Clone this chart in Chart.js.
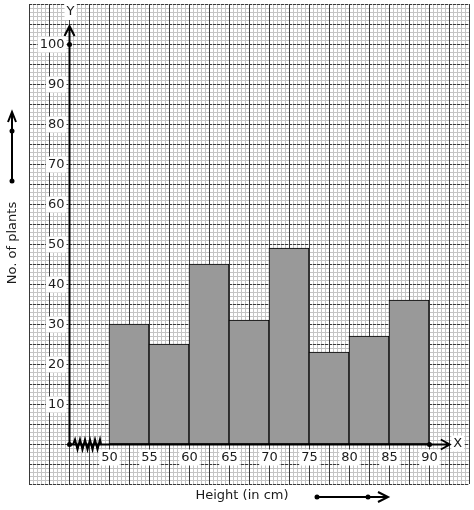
<!DOCTYPE html>
<html>
<head>
<meta charset="utf-8">
<script src="https://cdn.jsdelivr.net/npm/chart.js@4"></script>
<style>
  body { margin: 0; background: #fff; }
  #wrap { width: 474px; height: 510px; }
</style>
</head>
<body>
<div id="wrap"><canvas id="histogram"></canvas></div>
<script>
// histogram data: height classes and number of plants
var classLower = [50, 55, 60, 65, 70, 75, 80, 85];
var classUpper = [55, 60, 65, 70, 75, 80, 85, 90];
var plantCounts = [30, 25, 45, 31, 49, 23, 27, 36];

var xTicks = [50, 55, 60, 65, 70, 75, 80, 85, 90];
var yTicks = [10, 20, 30, 40, 50, 60, 70, 80, 90, 100];

var xTitle = 'Height (in cm)';
var yTitle = 'No. of plants';

var FONT = '13px "DejaVu Sans", sans-serif';

// graph paper behind everything
var graphPaper = {
    id: 'graphPaper',
    beforeDatasetsDraw: function(chart) {
        var ctx = chart.ctx;
        var xs = chart.scales.x, ys = chart.scales.y;
        var a = chart.chartArea;
        ctx.save();
        // minor lines
        ctx.strokeStyle = '#c4c4c4';
        ctx.lineWidth = 1;
        ctx.beginPath();
        for (var v = xs.min; v <= xs.max + 0.001; v += 0.5) {
            var px = Math.round(xs.getPixelForValue(v)) + 0.5;
            ctx.moveTo(px, a.top); ctx.lineTo(px, a.bottom);
        }
        for (var w = ys.min; w <= ys.max + 0.001; w += 1) {
            var py = Math.round(ys.getPixelForValue(w)) + 0.5;
            ctx.moveTo(a.left, py); ctx.lineTo(a.right, py);
        }
        ctx.stroke();
        // major vertical lines
        ctx.strokeStyle = '#3a3a3a';
        ctx.beginPath();
        for (var v2 = xs.min; v2 <= xs.max + 0.001; v2 += 2.5) {
            var px2 = Math.round(xs.getPixelForValue(v2)) + 0.5;
            ctx.moveTo(px2, a.top); ctx.lineTo(px2, a.bottom);
        }
        ctx.stroke();
        // major horizontal lines, dashed
        ctx.setLineDash([3, 1]);
        ctx.beginPath();
        for (var w2 = ys.min; w2 <= ys.max + 0.001; w2 += 5) {
            var py2 = Math.round(ys.getPixelForValue(w2)) + 0.5;
            ctx.moveTo(a.left, py2); ctx.lineTo(a.right, py2);
        }
        ctx.stroke();
        ctx.restore();
    }
};

function dot(ctx, x, y, r) {
    ctx.beginPath();
    ctx.arc(x, y, r, 0, Math.PI * 2);
    ctx.fill();
}

function labelBox(ctx, text, x, y, align) {
    var w = ctx.measureText(text).width;
    var left = align === 'right' ? x - w : x - w / 2;
    ctx.fillStyle = '#fff';
    ctx.fillRect(left - 2, y - 8, w + 4, 16);
    ctx.fillStyle = '#1a1a1a';
    ctx.textAlign = align;
    ctx.fillText(text, x, y);
}

// axes, arrows, kink and labels on top
var axesOverlay = {
    id: 'axesOverlay',
    afterDatasetsDraw: function(chart) {
        var ctx = chart.ctx;
        var xs = chart.scales.x, ys = chart.scales.y;
        var ox = Math.round(xs.getPixelForValue(45)) + 0.5;
        var oy = Math.round(ys.getPixelForValue(0)) + 0.5;
        ctx.save();
        ctx.strokeStyle = '#000';
        ctx.fillStyle = '#000';
        ctx.lineWidth = 2;

        // y axis with arrow
        var yTop = ys.getPixelForValue(104.5);
        ctx.beginPath();
        ctx.moveTo(ox, oy); ctx.lineTo(ox, yTop);
        ctx.moveTo(ox - 5, yTop + 10); ctx.lineTo(ox, yTop); ctx.lineTo(ox + 5, yTop + 10);
        ctx.stroke();

        // x axis with arrow
        var xEnd = xs.getPixelForValue(92.6);
        ctx.beginPath();
        ctx.moveTo(ox, oy); ctx.lineTo(xEnd, oy);
        ctx.moveTo(xEnd - 9, oy - 5); ctx.lineTo(xEnd, oy); ctx.lineTo(xEnd - 9, oy + 5);
        ctx.stroke();

        // kink between 45 and 50
        var k0 = xs.getPixelForValue(45.5), k1 = xs.getPixelForValue(49);
        ctx.lineWidth = 2;
        ctx.beginPath();
        ctx.moveTo(k0, oy);
        var up = true;
        for (var kx = k0 + 2; kx <= k1; kx += 2.5) {
            ctx.lineTo(kx, oy + (up ? -5 : 5));
            up = !up;
        }
        ctx.lineTo(k1, oy);
        ctx.stroke();

        dot(ctx, ox, oy, 2.5);
        dot(ctx, ox, Math.round(ys.getPixelForValue(100)) + 0.5, 2.5);
        dot(ctx, Math.round(xs.getPixelForValue(90)) + 0.5, oy, 2.5);

        // tick labels
        ctx.font = FONT;
        ctx.textBaseline = 'middle';
        yTicks.forEach(function(t) {
            labelBox(ctx, String(t), ox - 5, ys.getPixelForValue(t) + 0.5, 'right');
        });
        xTicks.forEach(function(t) {
            labelBox(ctx, String(t), xs.getPixelForValue(t) + 0.5, oy + 13, 'center');
        });
        labelBox(ctx, 'Y', ox + 1, ys.getPixelForValue(108), 'center');
        labelBox(ctx, 'X', xs.getPixelForValue(93.6), oy - 1, 'center');

        // axis titles
        ctx.fillStyle = '#1a1a1a';
        ctx.textAlign = 'center';
        ctx.fillText(xTitle, 242, 496);
        ctx.save();
        ctx.translate(13, 243);
        ctx.rotate(-Math.PI / 2);
        ctx.fillText(yTitle, 0, 0);
        ctx.restore();

        // small direction arrows next to titles
        ctx.fillStyle = '#000';
        ctx.lineWidth = 2;
        ctx.beginPath();
        ctx.moveTo(12, 181); ctx.lineTo(12, 112);
        ctx.moveTo(8, 122); ctx.lineTo(12, 112); ctx.lineTo(16, 122);
        ctx.stroke();
        dot(ctx, 12, 181, 2.5);
        dot(ctx, 12, 131, 2.5);
        ctx.beginPath();
        ctx.moveTo(317, 497); ctx.lineTo(388, 497);
        ctx.moveTo(378, 492); ctx.lineTo(388, 497); ctx.lineTo(378, 502);
        ctx.stroke();
        dot(ctx, 317, 497, 2.5);
        dot(ctx, 368, 497, 2.5);
        ctx.restore();
    }
};

var points = plantCounts.map(function(c, i) {
    return { x: (classLower[i] + classUpper[i]) / 2, y: c };
});

new Chart(document.getElementById('histogram'), {
    type: 'bar',
    data: {
        datasets: [{
            data: points,
            backgroundColor: '#999999',
            borderColor: '#000',
            borderWidth: 1,
            borderSkipped: false,
            barPercentage: 1,
            categoryPercentage: 1
        }]
    },
    options: {
        responsive: true,
        maintainAspectRatio: false,
        animation: false,
        events: [],
        layout: { padding: { left: 29, right: 5, top: 4, bottom: 26 } },
        plugins: { legend: { display: false }, tooltip: { enabled: false } },
        scales: {
            x: { type: 'linear', min: 40, max: 95, offset: false, display: false },
            y: { min: -10, max: 110, display: false }
        }
    },
    plugins: [graphPaper, axesOverlay]
});
</script>
</body>
</html>
